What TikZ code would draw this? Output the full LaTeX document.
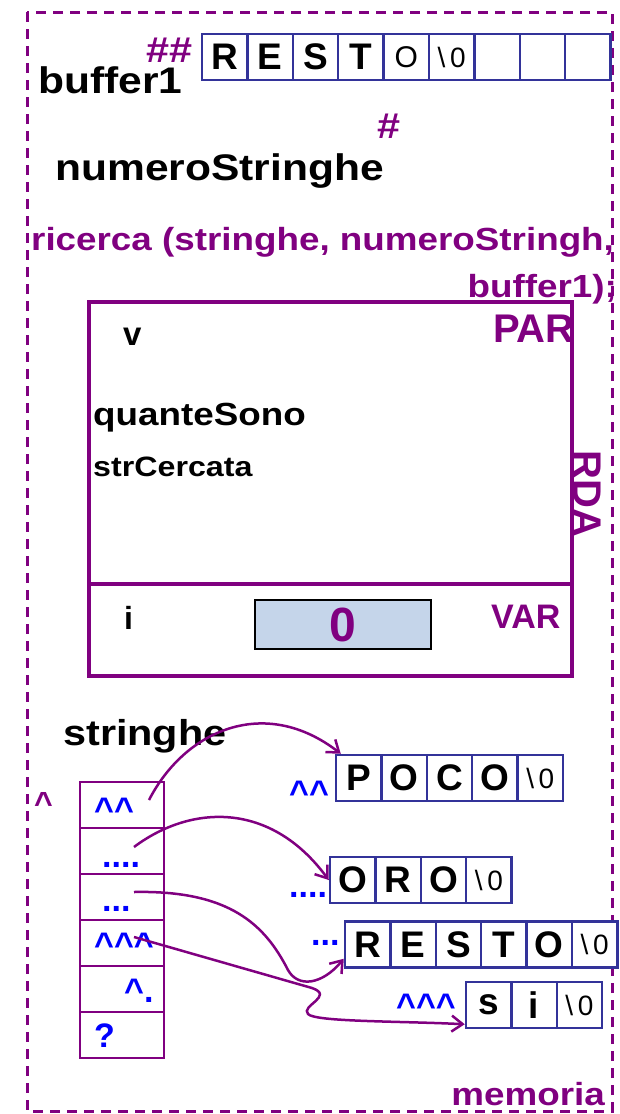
\documentclass[tikz,border=0pt]{standalone}
\usepackage{fontspec}
\setmainfont{Liberation Sans}
\newfontfamily\wide[FakeStretch=1.15]{Liberation Sans}
\usetikzlibrary{arrows.meta}
\definecolor{viola}{RGB}{128,0,128}
\definecolor{blu}{RGB}{0,0,255}
\definecolor{bordo}{RGB}{51,51,153}
\definecolor{celeste}{RGB}{197,213,234}
\newcommand\fsz[1]{\fontsize{#1}{#1}\selectfont}
\newcommand\terminatore{{\mdseries\fsz{28}\textbackslash\,0}}
\newcommand\cir{\textasciicircum}
\tikzset{
  cella/.style={draw=bordo,fill=white,line width=2.5pt,minimum width=45.4pt,minimum height=46pt,inner sep=0pt,font=\bfseries\fsz{37}},
  riga/.style={draw=viola,line width=2.5pt,minimum width=84pt,minimum height=46pt,inner sep=0pt},
  nome/.style={anchor=base west,inner sep=0pt,font=\wide\bfseries\fsz{#1}},
  tag/.style={anchor=base west,inner sep=0pt,text=blu,font=\bfseries\fsz{34}},
  freccia/.style={viola,line width=2.5pt,-{Straight Barb[length=11pt,width=16pt]}}
}
\begin{document}
\begin{tikzpicture}[x=1pt,y=-1pt]
\useasboundingbox (0,0) rectangle (619,1114);
\draw[viola,line width=3pt,dash pattern=on 10pt off 7pt] (27,12) rectangle (612,1111);
\node[nome=32,text=viola,anchor=base east] (memoria) at (605,1105) {memoria};
% buffer1
\node[nome=37] (buffer) at (38,93) {buffer1};
\node[nome=36,text=viola] (hbuf) at (146,62) {\#\#};
\foreach \t [count=\k] in {R,E,S,T,{\mdseries\fsz{30}O},\terminatore,{},{},{}}
  \node[cella] (b\k) at (202+45.4*\k-22.7,57) {\t};
\node[nome=37] (numero) at (55,180) {numeroStringhe};
\node[nome=36,text=viola] (hnum) at (377,138) {\#};
% chiamata
\node[nome=32,text=viola] (call) at (31,250) {ricerca (stringhe, numeroStringh,};
\node[nome=32,text=viola,anchor=base east] (call2) at (617,297) {buffer1);};
% record di attivazione
\draw[viola,line width=3.5pt] (89,302) rectangle (572,676);
\draw[viola,line width=3.5pt] (89,584) -- (572,584);
\node[anchor=base west,inner sep=0pt,text=viola,font=\bfseries\fsz{40}] (par) at (493,342) {PAR};
\node[anchor=base west,inner sep=0pt,text=viola,font=\bfseries\fsz{34}] (var) at (491,628) {VAR};
\node[rotate=-90,inner sep=0pt,text=viola,font=\bfseries\fsz{40}] (rda) at (587,494) {RDA};
\node[anchor=base west,inner sep=0pt,font=\bfseries\fsz{33}] (v) at (123,345) {v};
\node[nome=32] (quante) at (93,425) {quanteSono};
\node[nome=28] (str) at (93,476) {strCercata};
\node[anchor=base west,inner sep=0pt,font=\bfseries\fsz{32}] (i) at (124,629) {i};
\node[draw=black,fill=celeste,line width=1.5pt,minimum width=176pt,minimum height=49pt,
  text=viola,font=\bfseries\fsz{48}] (ival) at (343,624.5) {0};
% stringhe
\node[nome=36] (stringhe) at (63,745) {stringhe};
\node[anchor=base west,inner sep=0pt,text=viola,font=\bfseries\fsz{32}] (cst) at (34,814) {\cir};
\foreach \k in {1,...,6}
  \node[riga] (s\k) at (122,759+46*\k) {};
\node[tag] (t1) at (94,821) {\cir\cir};
\node[tag] (t2) at (102,867) {....};
\node[tag] (t3) at (102,911) {...};
\node[tag] (t4) at (94,956) {\cir\cir\cir};
\node[tag] (t5) at (124,1002) {\cir.};
\node[tag] (t6) at (94,1047) {?};
% le stringhe in memoria
\foreach \t [count=\k] in {P,O,C,O,\terminatore}
  \node[cella] (poco\k) at (336+45.4*\k-22.7,778) {\t};
\foreach \t [count=\k] in {O,R,O,\terminatore}
  \node[cella] (oro\k) at (330+45.4*\k-22.7,880) {\t};
\foreach \t [count=\k] in {R,E,S,T,O,\terminatore}
  \node[cella] (resto\k) at (345+45.4*\k-22.7,944.5) {\t};
\foreach \t [count=\k] in {s,i,\terminatore}
  \node[cella] (si\k) at (466+45.4*\k-22.7,1005) {\t};
\node[tag] (u1) at (289,804) {\cir\cir};
\node[tag] (u2) at (289,897) {....};
\node[tag] (u3) at (311,945) {...};
\node[tag] (u4) at (396,1017) {\cir\cir\cir};
% puntatori
\coordinate (da1) at (149,800);
\coordinate (da2) at (134,847);
\coordinate (da3) at (134,892);
\coordinate (da4) at (134,937);
\draw[freccia] (da1) .. controls (185,730) and (265,695) .. ([xshift=6pt]poco1.north west);
\draw[freccia] (da2) .. controls (190,805) and (270,800) .. (oro1.west);
\draw[freccia] (da3) .. controls (230,890) and (265,925) .. (288,970)
  .. controls (298,988) and (322,985) .. ([yshift=10pt]resto1.south west);
\draw[freccia] (da4) -- (312,988) .. controls (335,996) and (300,1006) .. (308,1014)
  .. controls (315,1022) and (400,1021) .. ([yshift=5pt]si1.south west);
\end{tikzpicture}
\end{document}
